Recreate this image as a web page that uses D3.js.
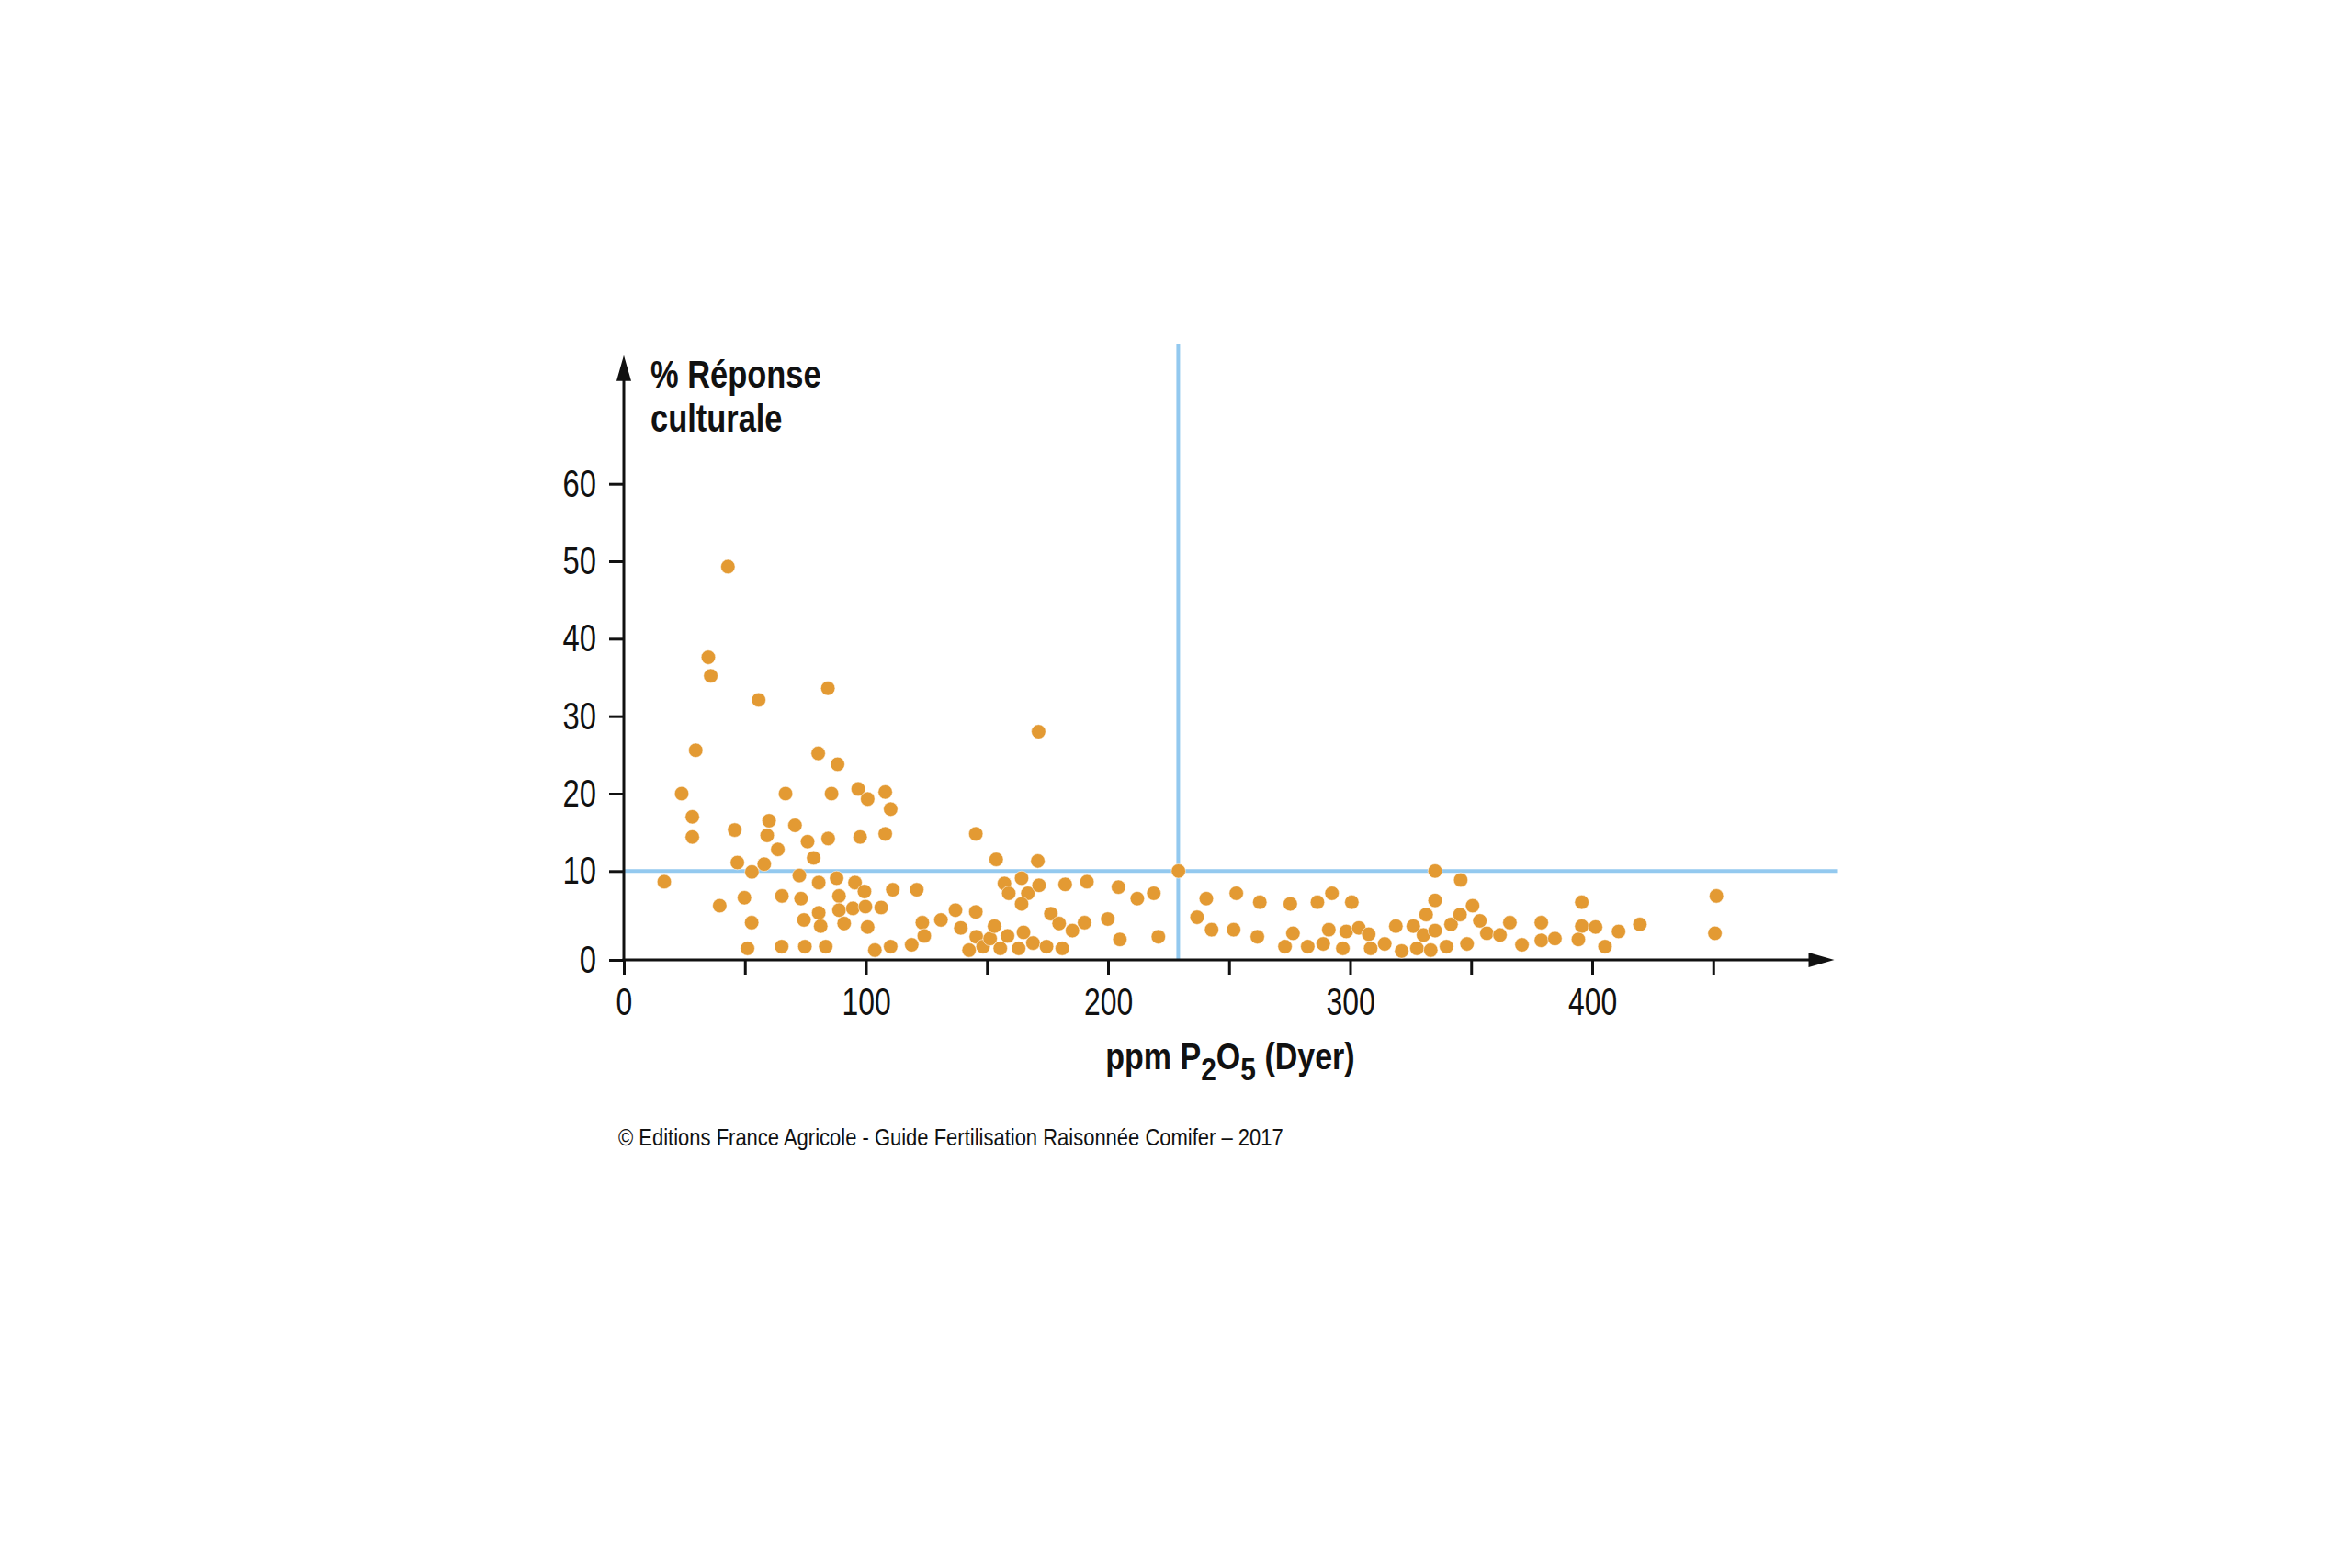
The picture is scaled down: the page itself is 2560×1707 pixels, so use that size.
<!DOCTYPE html>
<html>
<head>
<meta charset="utf-8">
<script src="https://cdn.jsdelivr.net/npm/d3@7"></script>
<style>
  html, body { margin: 0; padding: 0; background: #ffffff; }
  svg { display: block; }
  .cond { font-family: "Liberation Sans", Arial, "Helvetica Neue", sans-serif; }
</style>
</head>
<body>
<svg id="chart" width="2560" height="1707"></svg>
<script>
// ---- Data ----
const ppmP2O5 = [
  43.0, 34.9, 35.9, 55.7, 84.3, 29.7, 80.3, 88.3,
  23.9, 66.8, 85.8, 96.8, 100.7, 108.0, 28.3, 28.3, 45.8, 60.0, 59.2, 70.7,
  63.6, 75.9, 84.4, 97.6, 108.0, 78.4, 46.9, 58.0, 52.9, 16.7, 72.5, 80.5,
  87.9, 95.5, 99.4, 39.6, 49.8, 65.3, 73.2, 88.9, 80.5, 88.9, 94.6, 99.8,
  106.3, 52.8, 74.4, 81.3, 91.0, 100.7, 51.1, 65.2, 74.8, 83.4, 103.7,
  110.2, 145.4, 171.3, 153.8, 171.0, 111.1, 121.0, 110.2, 118.9, 123.3,
  124.1, 131.0, 137.0, 139.2, 145.4, 145.6, 142.6, 148.4, 151.3, 153.1,
  155.5, 158.5, 157.2, 159.0, 164.3, 166.9, 164.3, 171.5, 165.1, 163.1,
  169.0, 174.6, 181.1, 176.4, 179.8, 185.3, 182.3, 191.3, 190.3, 199.9,
  204.3, 204.9, 212.1,
  218.9, 220.8, 229.1, 236.8, 240.6, 242.8, 253.0, 251.9, 262.7, 261.7,
  275.3, 276.4, 273.1, 282.5, 286.5, 292.5, 288.9, 291.2, 297.0, 298.4,
  300.7, 303.6, 307.7, 308.5, 314.3,
  318.9, 321.3, 326.1, 330.3, 327.6, 331.4, 335.1, 333.3, 335.1, 335.1,
  339.8, 341.7, 345.4, 345.7, 348.3, 350.6, 353.6, 356.5, 361.9, 366.0,
  371.0, 379.0, 379.0, 384.6, 395.7, 395.7, 394.3, 401.4, 405.3, 410.9,
  419.7, 451.3, 450.7
];
const reponse = [
  49.3, 37.6, 35.2, 32.1, 33.6, 25.6, 25.2, 23.8,
  20.0, 20.0, 20.0, 20.6, 19.3, 20.2, 17.0, 14.4, 15.3, 16.5, 14.6, 15.9,
  12.8, 13.8, 14.2, 14.4, 14.8, 11.7, 11.1, 10.9, 9.9, 8.8, 9.5, 8.7,
  9.2, 8.7, 7.7, 6.1, 7.0, 7.2, 6.9, 7.2, 5.3, 5.6, 5.8, 6.0,
  5.9, 4.2, 4.5, 3.8, 4.1, 3.7, 1.3, 1.5, 1.5, 1.5, 1.1,
  18.0, 14.8, 28.0, 11.5, 11.3, 7.9, 7.9, 1.5, 1.7, 4.2,
  2.7, 4.5, 5.6, 3.6, 5.4, 2.6, 1.1, 1.5, 2.4, 3.8,
  1.3, 2.7, 8.6, 7.5, 9.2, 7.5, 6.3, 8.4, 3.1, 1.3,
  1.9, 1.5, 1.3, 5.2, 4.1, 3.3, 8.5, 8.8, 4.2, 4.6,
  8.2, 2.3, 6.9,
  7.5, 2.6, 10.0, 4.8, 6.9, 3.4, 7.5, 3.4, 6.5, 2.6,
  6.3, 3.0, 1.5, 1.5, 6.5, 7.5, 1.8, 3.4, 1.3, 3.2,
  6.5, 3.6, 2.9, 1.3, 1.8,
  3.8, 1.0, 3.8, 2.8, 1.3, 5.1, 3.3, 1.1, 10.0, 6.7,
  1.5, 4.0, 5.1, 9.0, 1.8, 6.1, 4.4, 3.0, 2.8, 4.2,
  1.7, 4.2, 2.2, 2.4, 6.5, 3.8, 2.3, 3.7, 1.5, 3.2,
  4.0, 7.2, 3.0
];
const xTickValues = [0, 50, 100, 150, 200, 250, 300, 350, 400, 450];
const xTickLabels = ["0", "", "100", "", "200", "", "300", "", "400", ""];
const yTickValues = [0, 10, 20, 30, 40, 50, 60];
const yTickLabels = ["0", "10", "20", "30", "40", "50", "60"];
const thresholdPpm = 229;
const thresholdReponse = 10;
const xAxisEnd = 500;
const yAxisEnd = 76.6;
const yLabelLines = ["% Réponse", "culturale"];
const copyrightText = "© Editions France Agricole - Guide Fertilisation Raisonnée Comifer – 2017";

// ---- Scales ----
const x = d3.scaleLinear().domain([0, 400]).range([679, 1733]);
const y = d3.scaleLinear().domain([0, 10, 60]).range([1045, 948.3, 526.7]);

const svg = d3.select("#chart");
svg.append("rect").attr("width", 2560).attr("height", 1707).attr("fill", "#ffffff");

const ORANGE = "#E39A33";
const BLUE = "#93C9EF";
const INK = "#111111";

// horizontal condensing around the text anchor (the reference uses a condensed face)
function condense(sel, sx) {
  sel.each(function () {
    const t = d3.select(this);
    const ax = +(t.attr("x") || 0);
    t.attr("transform", `translate(${ax},0) scale(${sx},1) translate(${-ax},0)`);
  });
}

// ---- Threshold lines ----
svg.append("line")
  .attr("x1", x(0)).attr("x2", x(xAxisEnd) + 4)
  .attr("y1", y(thresholdReponse)).attr("y2", y(thresholdReponse))
  .attr("stroke", BLUE).attr("stroke-width", 4);
svg.append("line")
  .attr("x1", x(thresholdPpm)).attr("x2", x(thresholdPpm))
  .attr("y1", y(0)).attr("y2", y(yAxisEnd) - 12)
  .attr("stroke", BLUE).attr("stroke-width", 4);

// ---- Axes ----
const xAxis = d3.axisBottom(x)
  .tickValues(xTickValues)
  .tickFormat((d, i) => xTickLabels[i])
  .tickSize(16).tickPadding(14);
const gx = svg.append("g").attr("transform", `translate(0,${y(0)})`).call(xAxis);
gx.select(".domain").remove();
gx.selectAll(".tick line").attr("stroke", INK).attr("stroke-width", 3);
gx.selectAll(".tick text").attr("class", "cond").attr("font-size", 42).attr("fill", INK);
condense(gx.selectAll(".tick text"), 0.76);

const yAxis = d3.axisLeft(y)
  .tickValues(yTickValues)
  .tickFormat((d, i) => yTickLabels[i])
  .tickSize(16).tickPadding(14);
const gy = svg.append("g").attr("transform", `translate(${x(0)},0)`).call(yAxis);
gy.select(".domain").remove();
gy.selectAll(".tick line").attr("stroke", INK).attr("stroke-width", 3);
gy.selectAll(".tick text").attr("class", "cond").attr("font-size", 42).attr("fill", INK);
condense(gy.selectAll(".tick text"), 0.78);
gx.attr("font-family", null); gy.attr("font-family", null);

// axis lines with arrowheads
svg.append("line")
  .attr("x1", x(0) - 1.5).attr("x2", x(xAxisEnd) - 20)
  .attr("y1", y(0)).attr("y2", y(0))
  .attr("stroke", INK).attr("stroke-width", 3);
svg.append("path")
  .attr("d", `M${x(xAxisEnd) - 28},${y(0) - 8} L${x(xAxisEnd)},${y(0)} L${x(xAxisEnd) - 28},${y(0) + 8} Z`)
  .attr("fill", INK);
svg.append("line")
  .attr("x1", x(0)).attr("x2", x(0))
  .attr("y1", y(0) + 1.5).attr("y2", y(yAxisEnd) + 20)
  .attr("stroke", INK).attr("stroke-width", 3);
svg.append("path")
  .attr("d", `M${x(0) - 8},${y(yAxisEnd) + 28} L${x(0)},${y(yAxisEnd)} L${x(0) + 8},${y(yAxisEnd) + 28} Z`)
  .attr("fill", INK);

// ---- Points ----
const pts = ppmP2O5.map((v, i) => ({ x: v, y: reponse[i] }));
svg.append("g").selectAll("circle")
  .data(pts).join("circle")
  .attr("cx", d => x(d.x))
  .attr("cy", d => y(d.y))
  .attr("r", 7.8)
  .attr("fill", ORANGE)
  .attr("stroke", "#ffffff").attr("stroke-opacity", 0.55).attr("stroke-width", 1);

// ---- Labels ----
const yl = svg.append("text").attr("class", "cond")
  .attr("x", 708).attr("y", 422)
  .attr("font-size", 42).attr("font-weight", "bold").attr("fill", INK);
yl.selectAll("tspan").data(yLabelLines).join("tspan")
  .attr("x", 708).attr("dy", (d, i) => i === 0 ? 0 : 48).text(d => d);
condense(yl, 0.82);

const title = svg.append("text").attr("class", "cond")
  .attr("x", 1339).attr("y", 1164).attr("text-anchor", "middle")
  .attr("font-size", 41).attr("font-weight", "bold").attr("fill", INK);
title.append("tspan").text("ppm P");
title.append("tspan").attr("dy", 12).attr("font-size", 36).text("2");
title.append("tspan").attr("dy", -12).text("O");
title.append("tspan").attr("dy", 12).attr("font-size", 36).text("5");
title.append("tspan").attr("dy", -12).text(" (Dyer)");
condense(title, 0.83);

const cr = svg.append("text").attr("class", "cond")
  .attr("x", 673).attr("y", 1247)
  .attr("font-size", 25).attr("fill", INK)
  .text(copyrightText);
condense(cr, 0.88);
</script>
</body>
</html>
